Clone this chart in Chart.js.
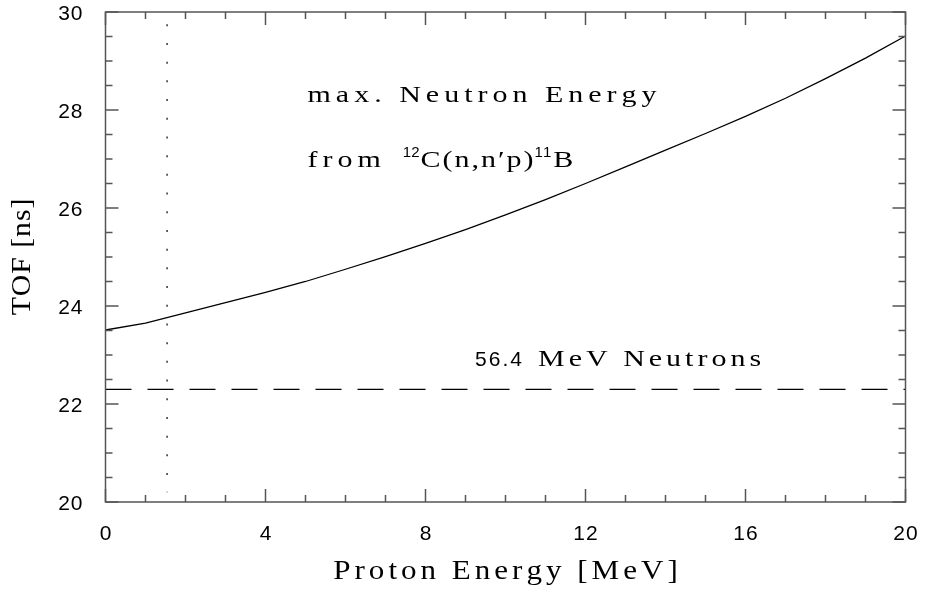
<!DOCTYPE html>
<html>
<head>
<meta charset="utf-8">
<script src="https://cdn.jsdelivr.net/npm/chart.js@4.4.0/dist/chart.umd.min.js"></script>
<style>
  html, body { margin: 0; padding: 0; background: #fff; }
  canvas { display: block; }
</style>
</head>
<body>
<canvas id="tof" width="927" height="590"></canvas>
<script>
// proton energy [MeV] and TOF [ns] of the fastest neutron left over
const protonEnergy = [0, 1, 2, 3, 4, 5, 6, 7, 8, 9, 10, 11, 12, 13, 14, 15, 16, 17, 18, 19, 20];
const tofMax = [23.51, 23.65, 23.86, 24.07, 24.28, 24.50, 24.75, 25.01, 25.28, 25.56, 25.86,
  26.17, 26.50, 26.84, 27.18, 27.52, 27.87, 28.24, 28.64, 29.06, 29.51];
const beamTof = 22.3;          // 56.4 MeV neutrons
const thresholdEnergy = 1.54;  // dotted marker
const xMajorTicks = [0, 4, 8, 12, 16, 20];
const yMajorTicks = [20, 22, 24, 26, 28, 30];
const xMinorStep = 1;
const yMinorStep = 0.5;

const SERIF = '"Liberation Serif", "DejaVu Serif", serif';
const SANS = '"Liberation Sans", Arial, sans-serif';

// text drawn glyph by glyph so the wide plotter-style spacing can be imitated
function runWidth(ctx, runs) {
  let w = 0;
  runs.forEach((r) => {
    ctx.font = r.font;
    for (const ch of r.text) w += ctx.measureText(ch).width * (r.sx || 1) + (r.sp || 0);
    w -= r.sp || 0;
    w += r.gap || 0;
  });
  return w;
}

function drawRuns(ctx, runs, x, y) {
  let cx = x;
  runs.forEach((r) => {
    ctx.font = r.font;
    const sx = r.sx || 1;
    const chars = [...r.text];
    chars.forEach((ch, i) => {
      ctx.save();
      ctx.translate(cx, y + (r.dy || 0));
      ctx.scale(sx, 1);
      ctx.fillText(ch, 0, 0);
      ctx.restore();
      cx += ctx.measureText(ch).width * sx + (i < chars.length - 1 ? (r.sp || 0) : 0);
    });
    cx += r.gap || 0;
  });
  return cx;
}

const serifRun = (text, size, extra = {}) => ({ text, font: `${size}px ${SERIF}`, sx: 1.25, sp: 5, ...extra });
const sansRun = (text, size, extra = {}) => ({ text, font: `${size}px ${SANS}`, sx: 1, sp: 1, ...extra });

const framePlugin = {
  id: "frame",
  afterDraw(chart) {
    const { ctx, chartArea: a, scales } = chart;
    const xs = scales.x;
    const ys = scales.y;
    ctx.save();
    ctx.strokeStyle = "#555";
    ctx.lineWidth = 1.5;
    ctx.strokeRect(a.left, a.top, a.right - a.left, a.bottom - a.top);

    // inward ticks on all four sides
    ctx.beginPath();
    for (let v = xs.min; v <= xs.max + 1e-9; v += xMinorStep) {
      const px = xs.getPixelForValue(v);
      const len = xMajorTicks.includes(v) ? 13 : 7;
      ctx.moveTo(px, a.bottom); ctx.lineTo(px, a.bottom - len);
      ctx.moveTo(px, a.top); ctx.lineTo(px, a.top + len);
    }
    for (let v = ys.min; v <= ys.max + 1e-9; v += yMinorStep) {
      const py = ys.getPixelForValue(v);
      const len = yMajorTicks.includes(v) ? 13 : 7;
      ctx.moveTo(a.left, py); ctx.lineTo(a.left + len, py);
      ctx.moveTo(a.right, py); ctx.lineTo(a.right - len, py);
    }
    ctx.stroke();

    ctx.fillStyle = "#000";
    ctx.textBaseline = "alphabetic";
    ctx.textAlign = "left";

    // tick labels
    xMajorTicks.forEach((v) => {
      const runs = [sansRun(String(v), 21)];
      const w = runWidth(ctx, runs);
      drawRuns(ctx, runs, xs.getPixelForValue(v) - w / 2, a.bottom + 38);
    });
    yMajorTicks.forEach((v) => {
      const runs = [sansRun(String(v), 21)];
      const w = runWidth(ctx, runs);
      drawRuns(ctx, runs, a.left - 23 - w, ys.getPixelForValue(v) + 8);
    });

    // axis titles
    const xTitle = [serifRun("Proton Energy [MeV]", 27, { sx: 1.15, sp: 4 })];
    const xw = runWidth(ctx, xTitle);
    drawRuns(ctx, xTitle, (a.left + a.right) / 2 - xw / 2, a.bottom + 77);

    const yTitle = [serifRun("TOF [ns]", 27, { sx: 1.1, sp: 1 })];
    const yw = runWidth(ctx, yTitle);
    ctx.save();
    ctx.translate(30, (a.top + a.bottom) / 2);
    ctx.rotate(-Math.PI / 2);
    drawRuns(ctx, yTitle, -yw / 2, 0);
    ctx.restore();

    // annotations, anchored in data coordinates
    drawRuns(ctx, [serifRun("max. Neutron Energy", 24)], xs.getPixelForValue(5.05), ys.getPixelForValue(28.16));
    drawRuns(ctx, [
      serifRun("from", 24, { gap: 22 }),
      sansRun("12", 15, { sp: 0, dy: -10, gap: 1 }),
      serifRun("C(n,n\u2032p)", 24, { sp: 2, gap: 1 }),
      sansRun("11", 15, { sp: 0, dy: -10, gap: 2 }),
      serifRun("B", 24),
    ], xs.getPixelForValue(5.05), ys.getPixelForValue(26.84));
    drawRuns(ctx, [
      sansRun("56.4", 21, { sp: 2, gap: 16 }),
      serifRun("MeV Neutrons", 24, { sp: 4 }),
    ], xs.getPixelForValue(9.24), ys.getPixelForValue(22.78));
    ctx.restore();
  },
};

new Chart(document.getElementById("tof"), {
  type: "scatter",
  data: {
    datasets: [
      {
        label: "max. neutron energy",
        data: protonEnergy.map((e, i) => ({ x: e, y: tofMax[i] })),
        showLine: true,
        borderColor: "#000",
        borderWidth: 1.3,
        pointRadius: 0,
        tension: 0,
      },
      {
        label: "56.4 MeV neutrons",
        data: [{ x: 0, y: beamTof }, { x: 20, y: beamTof }],
        showLine: true,
        borderColor: "#000",
        borderWidth: 1.3,
        borderDash: [26, 16],
        pointRadius: 0,
      },
      {
        label: "threshold",
        data: [{ x: thresholdEnergy, y: 29.75 }, { x: thresholdEnergy, y: 20.2 }],
        showLine: true,
        borderColor: "#333",
        borderWidth: 1.5,
        borderDash: [2, 16.7],
        pointRadius: 0,
      },
    ],
  },
  options: {
    responsive: false,
    animation: false,
    layout: { padding: { left: 105.5, right: 21.5, top: 12, bottom: 88 } },
    scales: {
      x: { type: "linear", min: 0, max: 20, display: false },
      y: { type: "linear", min: 20, max: 30, display: false },
    },
    plugins: { legend: { display: false }, tooltip: { enabled: false } },
  },
  plugins: [framePlugin],
});
</script>
</body>
</html>
